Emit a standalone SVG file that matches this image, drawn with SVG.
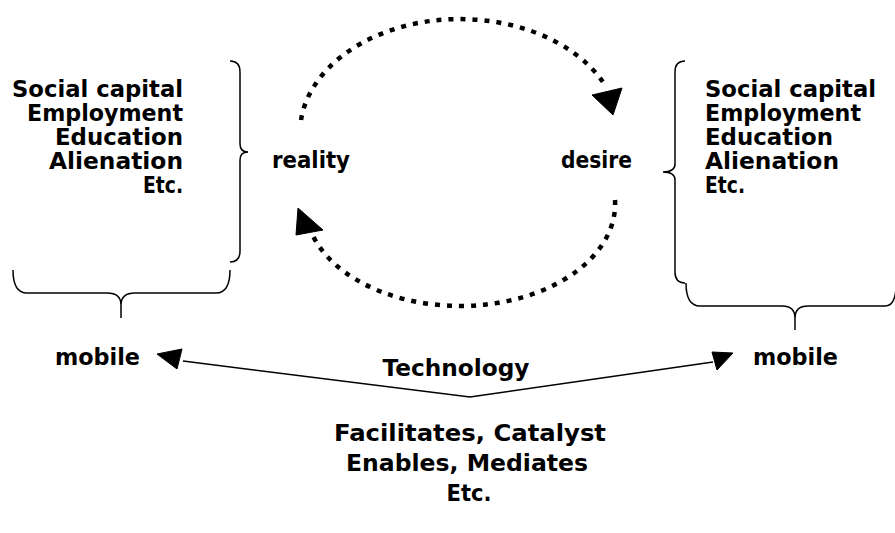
<svg xmlns="http://www.w3.org/2000/svg" width="895" height="533" viewBox="0 0 895 533">
<style>
text{font-family:"DejaVu Sans","Liberation Sans",sans-serif;font-weight:bold;font-size:23px;fill:#000}
.r{text-anchor:end}
.m{text-anchor:middle}
.brace{fill:none;stroke:#000;stroke-width:1.5}
.dot{fill:none;stroke:#000;stroke-width:4.5;stroke-dasharray:5 7}
.ln{fill:none;stroke:#000;stroke-width:1.5}
.ah{fill:#000;stroke:#000;stroke-width:1}
</style>
<rect width="895" height="533" fill="#fff"/>
<g id="connectors">
<path class="dot" d="M301,120 A160,114 0 0,1 603,82"/>
<polygon class="ah" points="613,115 592,95 622,88"/>
<path class="dot" d="M615,200 A155,102 0 0,1 312,234"/>
<polygon class="ah" points="298,208 296,235 323,230"/>
<polyline class="ln" points="183,361 470,397 713,362"/>
<polygon class="ah" points="157,354 182,349 177,369"/>
<polygon class="ah" points="712,352 733,353 717,370"/>
</g>
<g id="left-factors">
<text class="r" x="183" y="97" textLength="171" lengthAdjust="spacingAndGlyphs">Social capital</text>
<text class="r" x="183" y="121" textLength="156" lengthAdjust="spacingAndGlyphs">Employment</text>
<text class="r" x="183" y="145" textLength="128" lengthAdjust="spacingAndGlyphs">Education</text>
<text class="r" x="183" y="169" textLength="134" lengthAdjust="spacingAndGlyphs">Alienation</text>
<text class="r" x="183" y="193" textLength="40" lengthAdjust="spacingAndGlyphs">Etc.</text>
<path class="brace" d="M230,61 Q240,61 240,72 L240,144 Q240,152 248,152 Q240,152 240,160 L240,251 Q240,262 230,262"/>
<path class="brace" d="M13,270 Q13,293 27,293 L107,293 Q121,293 121,305 L121,318 M121,305 Q121,293 135,293 L216,293 Q230,293 230,270"/>
</g>
<g id="right-factors">
<text x="705" y="97" textLength="171" lengthAdjust="spacingAndGlyphs">Social capital</text>
<text x="705" y="121" textLength="156" lengthAdjust="spacingAndGlyphs">Employment</text>
<text x="705" y="145" textLength="128" lengthAdjust="spacingAndGlyphs">Education</text>
<text x="705" y="169" textLength="134" lengthAdjust="spacingAndGlyphs">Alienation</text>
<text x="705" y="193" textLength="40" lengthAdjust="spacingAndGlyphs">Etc.</text>
<path class="brace" d="M685,61 Q675,61 675,72 L675,164 Q675,172 663,172 Q675,172 675,180 L675,272 Q675,283 685,283"/>
<path class="brace" d="M686,283 Q686,306 700,306 L782,306 Q795,306 795,318 L795,330 M795,318 Q795,306 808,306 L885,306 Q895,306 896,288"/>
</g>
<g id="reality"><text x="272" y="168" textLength="78" lengthAdjust="spacingAndGlyphs">reality</text></g>
<g id="desire"><text x="561" y="168" textLength="71" lengthAdjust="spacingAndGlyphs">desire</text></g>
<g id="mobile-left"><text x="55" y="365" textLength="85" lengthAdjust="spacingAndGlyphs">mobile</text></g>
<g id="mobile-right"><text x="753" y="365" textLength="85" lengthAdjust="spacingAndGlyphs">mobile</text></g>
<g id="technology"><text class="m" x="456" y="376" textLength="147" lengthAdjust="spacingAndGlyphs">Technology</text></g>
<g id="effects">
<text class="m" x="470" y="441" textLength="272" lengthAdjust="spacingAndGlyphs">Facilitates, Catalyst</text>
<text class="m" x="467" y="471" textLength="242" lengthAdjust="spacingAndGlyphs">Enables, Mediates</text>
<text class="m" x="469" y="501" textLength="45" lengthAdjust="spacingAndGlyphs">Etc.</text>
</g>
</svg>
